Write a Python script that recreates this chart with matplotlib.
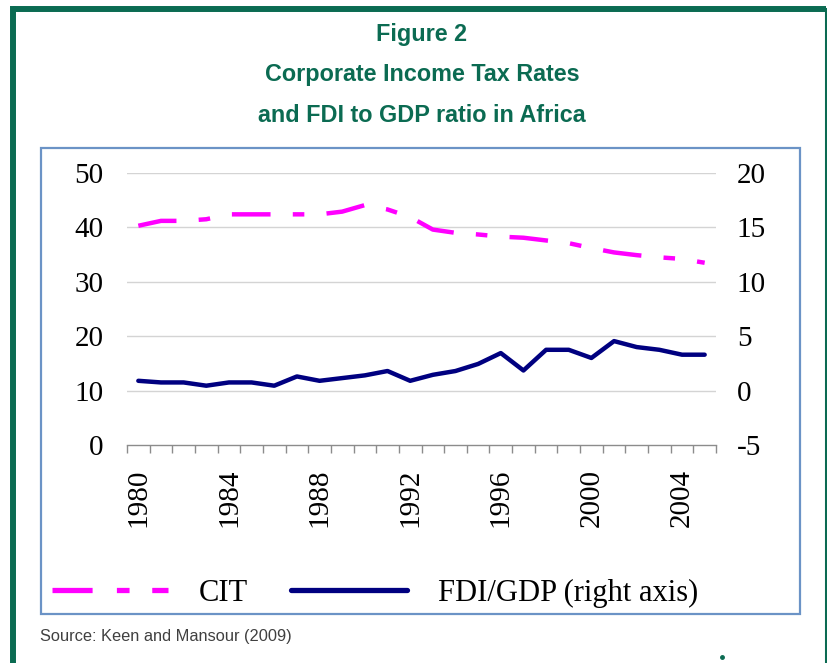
import numpy as np
import matplotlib
matplotlib.use("Agg")
import matplotlib.pyplot as plt
from matplotlib.lines import Line2D
from matplotlib.patches import Rectangle

plt.rcParams['axes.unicode_minus'] = False

# Data
years = list(range(1980, 2006))
cit = [40.3, 41.2, 41.2, 41.5, 42.4, 42.4, 42.4, 42.4, 42.4, 42.9, 44.1, 43.3, 41.9,
       39.6, 39.0, 38.7, 38.3, 38.1, 37.6, 37.1, 36.2, 35.4, 34.9, 34.5, 34.2, 33.5]
fdi_gdp = [0.9, 0.75, 0.75, 0.45, 0.75, 0.75, 0.45, 1.3, 0.9, 1.15, 1.4, 1.8, 0.9,
           1.45, 1.8, 2.45, 3.45, 1.85, 3.75, 3.75, 3.0, 4.55, 4.0, 3.75, 3.3, 3.3]
year_labels = [1980, 1984, 1988, 1992, 1996, 2000, 2004]
left_ticks = [0, 10, 20, 30, 40, 50]
right_ticks = [-5, 0, 5, 10, 15, 20]

title_lines = ["Figure 2", "Corporate Income Tax Rates", "and FDI to GDP ratio in Africa"]
source = "Source: Keen and Mansour (2009)"

green = '#0B6B52'
serif = ['Liberation Serif', 'DejaVu Serif']
narrow = ['Liberation Sans Narrow', 'Liberation Sans', 'DejaVu Sans']

fig = plt.figure(figsize=(8.28, 6.63), dpi=100)

# green outer frame
fig.add_artist(Line2D([13 / 828, 13 / 828], [0, 1 - 9 / 663], color=green, lw=4.3,
                      solid_capstyle='projecting'))
fig.add_artist(Line2D([13 / 828, 826 / 828], [1 - 9 / 663, 1 - 9 / 663], color=green, lw=4.3,
                      solid_capstyle='butt'))
fig.add_artist(Line2D([826 / 828, 826 / 828], [1 - 9 / 663, 0], color=green, lw=2.2))

# blue inner box
fig.add_artist(Rectangle((41 / 828, 1 - 614 / 663), (800 - 41) / 828, (614 - 148) / 663,
                         fill=False, edgecolor='#6B93C6', lw=1.6))

for txt, y in zip(title_lines, [35, 75, 115]):
    fig.text(422 / 828, 1 - y / 663, txt, ha='center', va='center', color=green,
             fontsize=16.8, fontweight='bold', family=narrow)

fig.text(40 / 828, 1 - 636 / 663, source, ha='left', va='center', color='#404040',
         fontsize=11.8, family=narrow)
fig.add_artist(Line2D([722 / 828], [1 - 657 / 663], marker='o', ms=2.5, color=green, lw=0))

ax = fig.add_axes([127 / 828, 1 - 445 / 663, (716 - 127) / 828, (445 - 173) / 663])
ax2 = ax.twinx()

ax.set_xlim(1979.5, 2005.5)
ax.set_ylim(0, 50)
ax2.set_ylim(-5, 20)

for y in left_ticks[1:]:
    ax.axhline(y, color='#D4D4D4', lw=1, zorder=0)

dash = (0, (8.7, 5, 2.6, 5))
ax.plot(years, cit, color='#FF00FF', lw=3.2, linestyle=dash, zorder=3)
ax2.plot(years, fdi_gdp, color='#000080', lw=3.2, solid_capstyle='round',
         solid_joinstyle='round', zorder=3)

for a in (ax, ax2):
    for s in ['top', 'left', 'right']:
        a.spines[s].set_visible(False)
ax2.spines['bottom'].set_visible(False)
ax.spines['bottom'].set_color('#8C8C8C')
ax.spines['bottom'].set_linewidth(1)

ax.set_yticks(left_ticks)
ax.set_yticklabels([str(v) for v in left_ticks], family=serif, fontsize=21)
ax.tick_params(axis='y', length=0, pad=17)
ax2.set_yticks(right_ticks)
ax2.set_yticklabels([str(v) for v in right_ticks], family=serif, fontsize=21)
ax2.tick_params(axis='y', length=0, pad=15)

ax.set_xticks(year_labels)
ax.set_xticklabels([str(v) for v in year_labels], rotation=90, family=serif, fontsize=21)
ax.set_xticks(np.arange(1979.5, 2006, 1.0), minor=True)
ax.tick_params(axis='x', which='major', length=0, pad=17)
ax.tick_params(axis='x', which='minor', length=6, width=1, color='#8C8C8C', direction='out')

handles = [Line2D([], [], color='#FF00FF', lw=3.8, linestyle=(0, (7.6, 4.6, 2.4, 4.3))),
           Line2D([], [], color='#000080', lw=3.8, solid_capstyle='round')]
fig.legend(handles, ['CIT', 'FDI/GDP (right axis)'], loc='center', ncol=2,
           bbox_to_anchor=(375 / 828, 1 - 593 / 663), frameon=False,
           prop={'family': serif, 'size': 22}, handlelength=3.8, handletextpad=1.0,
           columnspacing=1.4)

fig.savefig('out.png', dpi=100)
